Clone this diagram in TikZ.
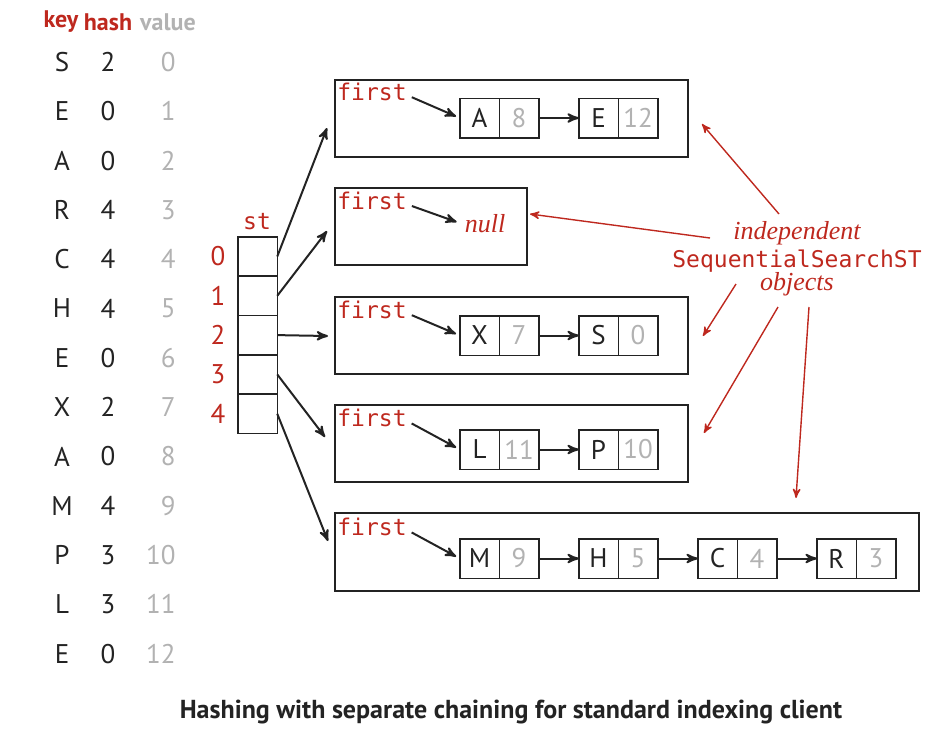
\documentclass[tikz,border=0pt]{standalone}
\usepackage{fontspec}
\setmainfont{PT Sans}
\setmonofont{DejaVu Sans Mono}
\newfontfamily\serifit{Liberation Serif}
\usepackage{tikz}
\usetikzlibrary{arrows,positioning}
\definecolor{bookred}{RGB}{190,40,30}
\definecolor{valgray}{RGB}{178,178,178}
\definecolor{ink}{RGB}{35,35,35}
\tikzset{
  txt/.style={font=\fontsize{13.5}{15}\selectfont, text=ink, inner sep=1pt},
  mono/.style={font=\fontsize{11.5}{13}\ttfamily, text=bookred, inner sep=1pt},
  note/.style={font=\fontsize{13}{14}\serifit\itshape, text=bookred, inner sep=1pt},
  cell/.style={draw=ink, line width=0.75pt, minimum width=19.75pt, minimum height=19.75pt,
    inner sep=0pt, outer sep=0pt, font=\fontsize{13.5}{15}\selectfont, text=ink},
  valcell/.style={cell, text=valgray},
  objbox/.style={draw=ink, line width=0.75pt, anchor=north west, minimum height=38.5pt, inner sep=0pt},
  link/.style={->, line width=1pt, ink},
  redarr/.style={->, line width=0.7pt, bookred}
}
\begin{document}
\begin{tikzpicture}[>=stealth', x=0.5pt, y=-0.5pt]
\useasboundingbox (0,0) rectangle (949,741);
% keys, hash values and values
\node [txt, font=\fontsize{12}{14}\selectfont\bfseries, text=bookred] (hkey) at (61,22) {key};
\node [txt, font=\fontsize{12}{14}\selectfont\bfseries, text=bookred] (hhash) at (108,22) {hash};
\node [txt, font=\fontsize{12}{14}\selectfont\bfseries, text=valgray] (hval) at (168,22) {value};
\foreach \k/\h [count=\i from 0] in {S/2,E/0,A/0,R/4,C/4,H/4,E/0,X/2,A/0,M/4,P/3,L/3,E/0} {
  \node [txt] (key\i) at (62,{62+49.3*\i}) {\k};
  \node [txt] (hash\i) at (108,{62+49.3*\i}) {\h};
  \node [txt, text=valgray, anchor=east] (val\i) at (178,{62+49.3*\i}) {\i};
}
% the array st[]
\node [mono] (stlbl) at (257,222) {st};
\foreach \i in {0,...,4} {
  \node [cell] (st\i) at (257.5,{256.5+39.3*\i}) {};
  \node [txt, text=bookred, left=5pt of st\i] (idx\i) {\i};
}
% SequentialSearchST objects
\node [objbox, minimum width=176.5pt] (ob0) at (334,79) {};
\node [objbox, minimum width=96pt] (ob1) at (334,187) {};
\node [objbox, minimum width=176.5pt] (ob2) at (334,296) {};
\node [objbox, minimum width=176.5pt] (ob3) at (334,404) {};
\node [objbox, minimum width=292pt, minimum height=39pt] (ob4) at (334,512) {};
\foreach \j/\y in {0/92,1/201,2/310,3/418,4/527}
  \node [mono] (fst\j) at (372,\y) {first};
\coordinate (t0) at (327,128);
\coordinate (t1) at (327,231);
\coordinate (t2) at (328,336);
\coordinate (t3) at (325,437);
\coordinate (t4) at (328,541);
\foreach \i in {0,...,4}
  \draw [link] (st\i.east) -- (t\i);
% chains
\node [cell] (ak) at (479.5,118) {A};
\node [valcell, right=0pt of ak] (av) {8};
\node [cell] (ek) at (598.5,118) {E};
\node [valcell, right=0pt of ek] (ev) {12};
\node [note] (nul) at (485,224) {null};
\node [cell] (xk) at (479.5,335.5) {X};
\node [valcell, right=0pt of xk] (xv) {7};
\node [cell] (sk) at (598.5,335.5) {S};
\node [valcell, right=0pt of sk] (sv) {0};
\node [cell] (lk) at (479.5,449.5) {L};
\node [valcell, right=0pt of lk] (lv) {11};
\node [cell] (pk) at (598.5,449.5) {P};
\node [valcell, right=0pt of pk] (pv) {10};
\node [cell] (mk) at (479.5,558.5) {M};
\node [valcell, right=0pt of mk] (mv) {9};
\node [cell] (hk) at (598.5,558.5) {H};
\node [valcell, right=0pt of hk] (hv) {5};
\node [cell] (ck) at (717.5,558.5) {C};
\node [valcell, right=0pt of ck] (cv) {4};
\node [cell] (rk) at (836.5,558.5) {R};
\node [valcell, right=0pt of rk] (rv) {3};
\draw [link, shorten <=1.5pt, shorten >=2pt] ([yshift=-2pt]fst0.east) -- (ak.west);
\draw [link, shorten <=1.5pt, shorten >=3pt] ([yshift=-2pt]fst1.east) -- (nul.west);
\draw [link, shorten <=1.5pt, shorten >=2pt] ([yshift=-2pt]fst2.east) -- (xk.west);
\draw [link, shorten <=1.5pt, shorten >=2pt] ([yshift=-2pt]fst3.east) -- (lk.west);
\draw [link, shorten <=1.5pt, shorten >=2pt] ([yshift=-2pt]fst4.east) -- (mk.west);
\draw [link] (av.east) -- (ek.west);
\draw [link] (xv.east) -- (sk.west);
\draw [link] (lv.east) -- (pk.west);
\draw [link] (mv.east) -- (hk.west);
\draw [link] (hv.east) -- (ck.west);
\draw [link] (cv.east) -- (rk.west);
% annotation
\node [note] (indep) at (797,233) {independent};
\node [mono] (sst) at (797,261) {SequentialSearchST};
\node [note] (objs) at (797,284) {objects};
\coordinate (s0) at (779,214); \coordinate (e0) at (702,124);
\coordinate (s1) at (710,238); \coordinate (e1) at (530,214);
\coordinate (s2) at (736,284); \coordinate (e2) at (703,336);
\coordinate (s3) at (778,307); \coordinate (e3) at (704,433);
\coordinate (s4) at (809,307); \coordinate (e4) at (796,498);
\foreach \i in {0,...,4}
  \draw [redarr] (s\i) -- (e\i);
\node [font=\fontsize{13}{15}\selectfont\bfseries, text=ink] (caption) at (511,712)
  {Hashing with separate chaining for standard indexing client};
\end{tikzpicture}
\end{document}
